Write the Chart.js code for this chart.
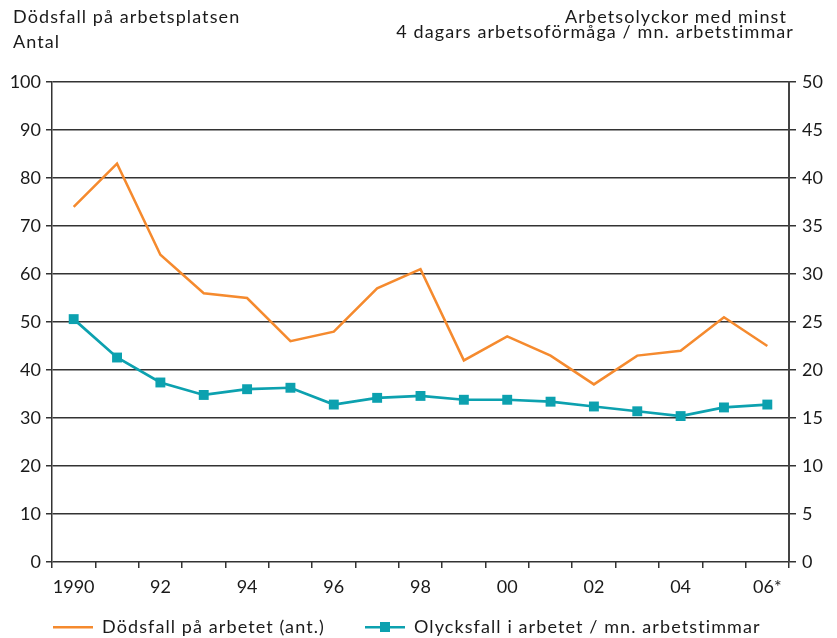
<!DOCTYPE html>
<html>
<head>
<meta charset="utf-8">
<script src="https://cdn.jsdelivr.net/npm/chart.js@4.4.1/dist/chart.umd.min.js"></script>
<style>
html,body{margin:0;padding:0;background:#fff;}
#wrap{position:relative;width:837px;height:638px;font-family:Lato,sans-serif;color:#1a1a1a;overflow:hidden;}
#c{position:absolute;left:0;top:0;}
.h{position:absolute;font-size:18px;line-height:18px;white-space:nowrap;letter-spacing:1.1px;}
</style>
</head>
<body>
<div id="wrap">
<canvas id="c" width="837" height="638"></canvas>
<div class="h" style="left:13px;top:7px">Dödsfall på arbetsplatsen</div>
<div class="h" style="left:13px;top:32px">Antal</div>
<div class="h" style="right:50px;top:7px">Arbetsolyckor med minst</div>
<div class="h" style="right:43px;top:22px">4 dagars arbetsoförmåga / mn. arbetstimmar</div>
</div>
<script>
// ---- data ----
const years = ['1990','1991','1992','1993','1994','1995','1996','1997','1998','1999','2000','2001','2002','2003','2004','2005','2006'];
const tickLabels = ['1990','','92','','94','','96','','98','','00','','02','','04','','06*'];
const deaths = [74, 83, 64, 56, 55, 46, 48, 57, 61, 42, 47, 43, 37, 43, 44, 51, 45];
const accidents = [25.3, 21.3, 18.7, 17.4, 18.0, 18.15, 16.4, 17.1, 17.3, 16.9, 16.9, 16.7, 16.2, 15.7, 15.2, 16.1, 16.4];
const seriesNames = ['Dödsfall på arbetet (ant.)', 'Olycksfall i arbetet / mn. arbetstimmar'];

const ORANGE = '#F58A2E';
const TEAL = '#0CA1AF';
const GRID = '#333333';
const TXT = '#1a1a1a';

function legendImg(color, marker) {
  const cv = document.createElement('canvas');
  cv.width = 40; cv.height = 12;
  const g = cv.getContext('2d');
  g.fillStyle = color;
  g.fillRect(0, 5, 40, 2.5);
  if (marker) g.fillRect(15, 1, 10, 10);
  return cv;
}

function withSpacing(fn) {
  return function () {
    const c = this.ctx;
    const prev = c.letterSpacing;
    c.letterSpacing = '1.1px';
    const r = fn.apply(this, arguments);
    c.letterSpacing = prev;
    return r;
  };
}

const legendTweak = {
  id: 'legendTweak',
  afterInit(chart) {
    const lg = chart.legend;
    if (lg && !lg._tw) {
      lg.fit = withSpacing(lg.fit);
      lg.draw = withSpacing(lg.draw);
      lg._tw = true;
    }
  },
  afterLayout(chart) {
    const lg = chart.legend;
    if (lg) { lg.top = 578; lg.bottom = 638; lg.left = 13; }
  }
};

function draw() {
  Chart.defaults.font.family = 'Lato';
  Chart.defaults.font.size = 18;
  Chart.defaults.color = TXT;
  const imgs = [legendImg(ORANGE, false), legendImg(TEAL, true)];
  new Chart(document.getElementById('c'), {
    type: 'line',
    plugins: [legendTweak],
    data: {
      labels: years,
      datasets: [
        {label: seriesNames[0], data: deaths, yAxisID: 'y', borderColor: ORANGE, backgroundColor: ORANGE,
         borderWidth: 2.5, pointRadius: 0, tension: 0},
        {label: seriesNames[1], data: accidents, yAxisID: 'y1', borderColor: TEAL, backgroundColor: TEAL,
         borderWidth: 2.7, pointStyle: 'rect', pointRadius: 7, pointBorderWidth: 0, pointBackgroundColor: TEAL, tension: 0}
      ]
    },
    options: {
      responsive: false,
      animation: false,
      devicePixelRatio: 1,
      layout: {padding: {left: 0, right: 0, top: 82, bottom: 0}},
      plugins: {
        tooltip: {enabled: false},
        legend: {
          position: 'bottom', align: 'start', maxHeight: 36,
          labels: {
            usePointStyle: true, pointStyleWidth: 40, padding: 40, color: TXT,
            font: {family: 'Lato', size: 18},
            generateLabels: chart => chart.data.datasets.map((d, i) => ({
              text: d.label, pointStyle: imgs[i], fillStyle: d.borderColor, strokeStyle: d.borderColor,
              lineWidth: 0, hidden: false, datasetIndex: i, fontColor: TXT
            }))
          }
        }
      },
      scales: {
        x: {
          type: 'category', offset: true,
          grid: {offset: true, drawOnChartArea: false, drawTicks: true, tickLength: 6, color: GRID, lineWidth: 1.5},
          border: {display: false},
          ticks: {autoSkip: false, maxRotation: 0, padding: 8, color: TXT, font: {family: 'Lato', size: 18},
                  callback: (v, i) => tickLabels[i]},
          afterFit: s => { s.height = 40; }
        },
        y: {
          position: 'left', min: 0, max: 100,
          ticks: {stepSize: 10, padding: 5, color: TXT, font: {family: 'Lato', size: 18}},
          grid: {color: GRID, lineWidth: 1.5, tickLength: 6},
          border: {color: GRID, width: 1.5},
          afterFit: s => { s.width = 52; }
        },
        y1: {
          position: 'right', min: 0, max: 50,
          ticks: {stepSize: 5, padding: 6, color: TXT, font: {family: 'Lato', size: 18}},
          grid: {drawOnChartArea: false, color: GRID, lineWidth: 1.5, tickLength: 7},
          border: {color: '#444', width: 2},
          afterFit: s => { s.width = 48; }
        }
      }
    }
  });
}
if (document.fonts && document.fonts.load) {
  document.fonts.load('18px Lato').then(draw, draw);
} else { draw(); }
</script>
</body>
</html>
